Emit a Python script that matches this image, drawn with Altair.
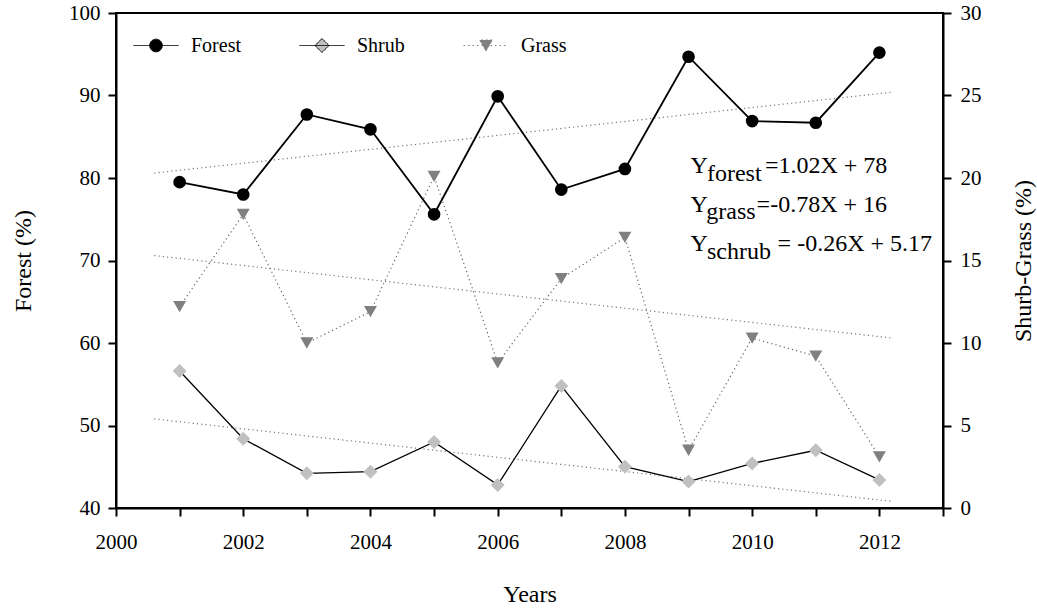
import altair as alt
import pandas as pd

# ---------------- data ----------------
years = list(range(2001, 2013))
forest = [79.5, 78.0, 87.7, 85.9, 75.6, 89.9, 78.6, 81.1, 94.7, 86.9, 86.7, 95.2]
shrub = [8.3, 4.2, 2.1, 2.2, 4.0, 1.4, 7.4, 2.5, 1.6, 2.7, 3.5, 1.7]
grass = [12.2, 17.8, 10.0, 11.9, 20.1, 8.8, 13.9, 16.4, 3.5, 10.3, 9.2, 3.1]

trend_years = [2000.6, 2012.2]
forest_trend = [80.6, 90.4]
grass_trend = [15.3, 10.3]
shrub_trend = [5.4, 0.4]

series_names = ["Forest", "Shrub", "Grass"]
x_ticks = list(range(2000, 2014))
left_ticks = list(range(40, 101, 10))
right_ticks = list(range(0, 31, 5))

eq_subs = ["forest", "grass", "schrub"]
eq_rhs = ["=1.02X + 78", "=-0.78X + 16", "= -0.26X + 5.17"]

# ---------------- tables ----------------
main = pd.DataFrame({"year": years, "forest": forest, "shrub": shrub, "grass": grass})
trend = pd.DataFrame({"year": trend_years, "forest": forest_trend,
                      "shrub": shrub_trend, "grass": grass_trend})

# annotation placement (year, forest-axis value) for each text piece
eq_y_main = [80.64, 75.92, 71.19]
eq_y_sub = [79.67, 75.0, 70.18]
eq_x_y = 2009.03
eq_x_sub = [2009.29, 2009.28, 2009.29]
eq_x_rhs = [2010.20, 2010.07, 2010.40]
eq_rows = []
for i in range(3):
    eq_rows.append({"x": eq_x_y, "y": eq_y_main[i], "t": "Y"})
    eq_rows.append({"x": eq_x_sub[i], "y": eq_y_sub[i], "t": eq_subs[i]})
    eq_rows.append({"x": eq_x_rhs[i], "y": eq_y_main[i], "t": eq_rhs[i]})
eq_df = pd.DataFrame(eq_rows)

FONT = "'Liberation Serif', 'Times New Roman', Times, 'DejaVu Serif', serif"
AX = dict(labelFont=FONT, titleFont=FONT, labelFontSize=21, titleFontSize=24,
          labelColor="black", titleColor="black", domainColor="black",
          tickColor="black", domainWidth=2, tickWidth=2, titleFontWeight="normal",
          grid=False, tickSize=8, labelFlush=False, labelOverlap=False)

x_enc = alt.X("year:Q",
              scale=alt.Scale(domain=[2000, 2013], nice=False, zero=False),
              axis=alt.Axis(values=x_ticks, format="d",
                            labelExpr="datum.value % 2 === 0 ? datum.label : ''",
                            title="Years", labelPadding=15, titlePadding=30, **AX))

left_scale = alt.Scale(domain=[40, 100], nice=False, zero=False)
left_axis = alt.Axis(orient="left", values=left_ticks, title="Forest (%)",
                     labelPadding=8, titlePadding=33, **AX)
right_scale = alt.Scale(domain=[0, 30], nice=False, zero=False)
right_axis = alt.Axis(orient="right", values=right_ticks, title="Shurb-Grass (%)",
                      labelPadding=9, titlePadding=30,
                      titleAngle=270, titleBaseline="top", **AX)

y_forest = alt.Y("forest:Q", scale=left_scale, axis=left_axis)
y_shrub = alt.Y("shrub:Q", scale=right_scale, axis=right_axis)
y_grass = alt.Y("grass:Q", scale=right_scale, axis=right_axis)

DOT = [1.2, 3.1]

# ---------------- left (forest) group ----------------
forest_tr = alt.Chart(trend).mark_line(color="#777777", strokeWidth=1.2,
                                       strokeDash=DOT).encode(x=x_enc, y=y_forest)
forest_ln = alt.Chart(main).mark_line(color="black", strokeWidth=1.8).encode(x=x_enc, y=y_forest)
forest_pt = alt.Chart(main).mark_point(filled=True, shape="circle", size=160,
                                       color="black", opacity=1).encode(x=x_enc, y=y_forest)

eq_text = alt.Chart(eq_df).mark_text(align="left", baseline="alphabetic", font=FONT,
                                     fontSize=24, color="black").encode(
    x=alt.X("x:Q", scale=alt.Scale(domain=[2000, 2013], nice=False, zero=False)),
    y=alt.Y("y:Q", scale=left_scale),
    text="t:N")

legend_paths = [
    "M-1,0L1,0M-0.28,0A0.28,0.28,0,1,0,0.28,0A0.28,0.28,0,1,0,-0.28,0Z",
    "M-1,0L1,0M-0.31,0L0,-0.31L0.31,0L0,0.31Z",
    "M-1,0L1,0M0,0.25L0.29,-0.25L-0.29,-0.25Z",
]
leg = alt.Legend(title=None, orient="none", legendX=17, legendY=9.5,
                 direction="horizontal", symbolSize=2025, labelFontSize=20,
                 labelFont=FONT, labelColor="black", labelOffset=12,
                 columnPadding=56, symbolStrokeWidth=1.0, padding=0)
legend_df = pd.DataFrame({"series": series_names})
legend_layer = alt.Chart(legend_df).transform_filter("false").mark_point(
    filled=True, opacity=1).encode(
    shape=alt.Shape("series:N", scale=alt.Scale(domain=series_names, range=legend_paths), legend=leg),
    fill=alt.Fill("series:N", scale=alt.Scale(domain=series_names,
                                              range=["black", "#c0c0c0", "#808080"]), legend=leg),
    stroke=alt.Stroke("series:N", scale=alt.Scale(domain=series_names,
                                                  range=["black", "black", "#808080"]), legend=leg),
    strokeDash=alt.StrokeDash("series:N", scale=alt.Scale(domain=series_names,
                                                          range=[[1, 0], [1, 0], [1.5, 3]]), legend=leg),
)

left = alt.layer(forest_tr, forest_ln, forest_pt, eq_text, legend_layer)

# ---------------- right (shrub / grass) group ----------------
shrub_tr = alt.Chart(trend).mark_line(color="#777777", strokeWidth=1.2,
                                      strokeDash=DOT).encode(x=x_enc, y=y_shrub)
grass_tr = alt.Chart(trend).mark_line(color="#777777", strokeWidth=1.2,
                                      strokeDash=DOT).encode(x=x_enc, y=y_grass)
grass_ln = alt.Chart(main).mark_line(color="#666666", strokeWidth=1.2,
                                     strokeDash=DOT).encode(x=x_enc, y=y_grass)
shrub_ln = alt.Chart(main).mark_line(color="black", strokeWidth=1.3).encode(x=x_enc, y=y_shrub)
grass_pt = alt.Chart(main).mark_point(filled=True, shape="triangle-down", size=169,
                                      color="#808080", opacity=1).encode(x=x_enc, y=y_grass)
shrub_pt = alt.Chart(main).mark_point(filled=True, shape="diamond", size=196,
                                      color="#c0c0c0", opacity=1).encode(x=x_enc, y=y_shrub)

right = alt.layer(shrub_tr, grass_tr, grass_ln, shrub_ln, grass_pt, shrub_pt)

chart = alt.layer(left, right).resolve_scale(y="independent").properties(
    width=827, height=495,
    padding={"left": 116, "top": 13, "right": 94, "bottom": 102},
    autosize=alt.AutoSizeParams(type="none"),
).configure(font=FONT).configure_view(stroke="black", strokeWidth=2).configure_axis(
    labelFont=FONT, titleFont=FONT, labelFontSize=21, titleFontSize=24,
    labelColor="black", titleColor="black", domainColor="black",
    tickColor="black", domainWidth=2, tickWidth=2, titleFontWeight="normal",
).configure_text(font=FONT).configure_legend(labelFont=FONT)

chart.save("out.html", embed_options={"renderer": "svg", "actions": False})
